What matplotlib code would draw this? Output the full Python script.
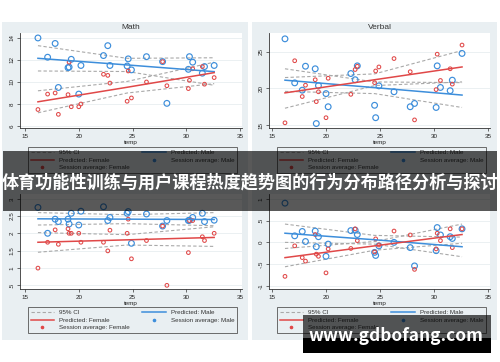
"""
Session averages vs temperature, by gender, four outcome panels
(Stata-style margins plot with a title banner and site watermark on top).
"""

import matplotlib
matplotlib.use("Agg")
import matplotlib.pyplot as plt
import matplotlib.patches as mpatches
from matplotlib.lines import Line2D

plt.rcParams["font.family"] = ["Liberation Sans", "DejaVu Sans"]

# ── Data ──────────────────────────────────────────────────────────────────
TEMP = [16.2, 17.1, 17.8, 18.1, 19.0, 19.1, 19.3, 20.0, 20.2, 22.3, 22.7, 22.9,
        24.5, 24.6, 24.9, 26.3, 27.8, 28.2, 30.2, 30.3, 30.6, 31.5, 31.7, 32.6]

MATH_MALE   = [14.0, 12.25, 13.5, 9.5, 11.3, 11.35, 12.06, 8.9, 11.5, 12.4, 13.3, 11.5,
               11.45, 12.1, 11.1, 12.3, 11.85, 8.06, 11.15, 12.3, 11.8, 10.8, 11.4, 11.5]
MATH_FEMALE = [7.5, 8.9, 9.0, 7.06, 8.85, 11.8, 7.75, 7.75, 8.0, 10.7, 10.6, 9.9,
               8.25, 11.0, 8.55, 10.0, 11.85, 9.66, 9.4, 10.15, 11.2, 11.4, 9.8, 10.4]

VERBAL_MALE   = [26.8, 20.77, 19.77, 23.05, 22.7, 15.2, 20.4, 19.3, 17.5, 22.05, 21.2, 23.1,
                 17.7, 16.0, 20.36, 19.55, 17.5, 17.95, 17.4, 23.1, 20.14, 19.7, 21.14, 24.8]
VERBAL_FEMALE = [15.3, 23.8, 18.9, 20.45, 21.2, 18.2, 19.55, 16.0, 21.4, 19.2, 22.6, 23.05,
                 20.8, 22.4, 22.95, 24.1, 22.3, 15.7, 19.85, 24.7, 21.1, 22.7, 20.6, 25.95]

LOWER_L_MALE   = [2.75, 2.0, 2.41, 2.34, 2.41, 2.27, 2.58, 2.24, 2.64, 2.77, 2.37, 2.46,
                  2.58, 2.63, 1.71, 2.56, 2.21, 2.37, 2.37, 2.38, 2.46, 2.58, 2.34, 2.38]
LOWER_L_FEMALE = [0.99, 1.74, 2.1, 1.68, 2.13, 2.0, 2.0, 2.0, 1.74, 1.74, 1.49, 2.09,
                  2.0, 2.41, 1.26, 1.79, 2.21, 0.49, 1.44, 2.37, 2.37, 1.9, 1.79, 2.0]

LOWER_R_MALE   = [0.9, 0.15, 0.25, 0.02, 0.26, -0.1, 0.13, -0.32, -0.04, 0.27, 0.28, 0.18,
                  -0.23, -0.3, -0.08, 0.0, -0.12, -0.54, -0.19, 0.34, 0.17, 0.13, 0.09, 0.31]
LOWER_R_FEMALE = [-0.78, -0.08, -0.35, -0.43, 0.18, -0.27, -0.32, -0.7, -0.15, -0.14, 0.31, 0.04,
                  -0.22, 0.08, -0.06, 0.26, 0.17, -0.62, -0.15, 0.21, 0.04, 0.31, -0.12, 0.31]

# predicted lines + 95% CI (start / middle / end of temp range)
FIT_X = [16.2, 24.5, 32.6]

MATH_FIT_M = [12.15, 11.55, 10.94]
MATH_LO_M  = [11.0, 10.95, 9.7]
MATH_HI_M  = [13.3, 12.15, 12.2]
MATH_FIT_F = [8.2, 9.52, 10.85]
MATH_LO_F  = [7.2, 9.0, 9.85]
MATH_HI_F  = [9.2, 10.05, 11.8]

VERBAL_FIT_M = [21.14, 20.12, 19.1]
VERBAL_LO_M  = [19.6, 19.3, 17.4]
VERBAL_HI_M  = [22.7, 20.9, 20.8]
VERBAL_FIT_F = [19.4, 21.2, 22.95]
VERBAL_LO_F  = [17.3, 20.4, 20.9]
VERBAL_HI_F  = [21.5, 22.0, 25.2]

LOWER_L_FIT_M = [2.42, 2.41, 2.40]
LOWER_L_LO_M  = [2.24, 2.28, 2.22]
LOWER_L_HI_M  = [2.6, 2.54, 2.6]
LOWER_L_FIT_F = [1.74, 1.81, 1.88]
LOWER_L_LO_F  = [1.45, 1.66, 1.62]
LOWER_L_HI_F  = [2.02, 1.96, 2.19]

LOWER_R_FIT_M = [0.21, 0.06, -0.1]
LOWER_R_LO_M  = [0.0, -0.04, -0.33]
LOWER_R_HI_M  = [0.42, 0.16, 0.12]
LOWER_R_FIT_F = [-0.35, -0.08, 0.18]
LOWER_R_LO_F  = [-0.56, -0.18, -0.02]
LOWER_R_HI_F  = [-0.14, 0.02, 0.42]

XTICKS = [15, 20, 25, 30, 35]
BANNER_TEXT = "体育功能性训练与用户课程热度趋势图的行为分布路径分析与探讨"
WATERMARK = "www.gdbofang.com"

# ── Style ─────────────────────────────────────────────────────────────────
BLUE = "#3d8edb"
RED  = "#e04848"
GREY = "#a9a9a9"
BG   = "#e9eff2"
AXC  = "#333333"

W, H = 500, 362
fig = plt.figure(figsize=(W / 100, H / 100), dpi=100)


def px_rect(x0, y0, x1, y1):
    """pixel box (top-left origin) -> figure-fraction [left, bottom, w, h]"""
    return [x0 / W, 1 - y1 / H, (x1 - x0) / W, (y1 - y0) / H]


def add_rect(x0, y0, x1, y1, **kw):
    l, b, w, h = px_rect(x0, y0, x1, y1)
    fig.add_artist(mpatches.Rectangle((l, b), w, h, transform=fig.transFigure, **kw))


# graph-region backgrounds
add_rect(2, 22, 248, 181, color=BG, zorder=0, lw=0)
add_rect(252, 22, 497, 181, color=BG, zorder=0, lw=0)
add_rect(2, 181, 248, 340, color=BG, zorder=0, lw=0)
add_rect(252, 181, 497, 340, color=BG, zorder=0, lw=0)

panels = [
    dict(box=(20, 33, 242, 128), xlim=(14.53, 35.19), ylim=(5.82, 14.45),
         yticks=[6, 8, 10, 12, 14], ylabels=["6", "8", "10", "12", "14"], title="Math",
         male=MATH_MALE, female=MATH_FEMALE,
         fm=MATH_FIT_M, lm=MATH_LO_M, hm=MATH_HI_M,
         ff=MATH_FIT_F, lf=MATH_LO_F, hf=MATH_HI_F, legend_top=147),
    dict(box=(269, 33, 490, 128), xlim=(14.72, 35.19), ylim=(14.59, 27.6),
         yticks=[15, 20, 25], ylabels=["15", "20", "25"], title="Verbal",
         male=VERBAL_MALE, female=VERBAL_FEMALE,
         fm=VERBAL_FIT_M, lm=VERBAL_LO_M, hm=VERBAL_HI_M,
         ff=VERBAL_FIT_F, lf=VERBAL_LO_F, hf=VERBAL_HI_F, legend_top=147),
    dict(box=(20, 194, 242, 289), xlim=(14.53, 35.19), ylim=(0.384, 3.14),
         yticks=[0.5, 1, 1.5, 2, 2.5, 3], ylabels=[".5", "1", "1.5", "2", "2.5", "3"], title=None,
         male=LOWER_L_MALE, female=LOWER_L_FEMALE,
         fm=LOWER_L_FIT_M, lm=LOWER_L_LO_M, hm=LOWER_L_HI_M,
         ff=LOWER_L_FIT_F, lf=LOWER_L_LO_F, hf=LOWER_L_HI_F, legend_top=307),
    dict(box=(269, 194, 490, 289), xlim=(14.72, 35.19), ylim=(-1.07, 1.11),
         yticks=[-1, -0.5, 0, 0.5, 1], ylabels=["-1", "-.5", "0", ".5", "1"], title=None,
         male=LOWER_R_MALE, female=LOWER_R_FEMALE,
         fm=LOWER_R_FIT_M, lm=LOWER_R_LO_M, hm=LOWER_R_HI_M,
         ff=LOWER_R_FIT_F, lf=LOWER_R_LO_F, hf=LOWER_R_HI_F, legend_top=307),
]

for p in panels:
    ax = fig.add_axes(px_rect(*p["box"]))
    ax.set_facecolor("white")
    for s in ("top", "right"):
        ax.spines[s].set_visible(False)
    for s in ("left", "bottom"):
        ax.spines[s].set_color(AXC)
        ax.spines[s].set_linewidth(0.6)

    # CI bands (dashed), predicted lines, session averages
    for ci in (p["lm"], p["hm"], p["lf"], p["hf"]):
        ax.plot(FIT_X, ci, color=GREY, lw=0.8, dashes=(3, 2), zorder=2)
    ax.scatter(TEMP, p["male"], s=17, facecolors="none", edgecolors=BLUE, linewidths=0.85, zorder=3)
    ax.scatter(TEMP, p["female"], s=7, facecolors="none", edgecolors=RED, linewidths=0.75, zorder=3)
    ax.plot(FIT_X, p["fm"], color=BLUE, lw=1.1, zorder=4)
    ax.plot(FIT_X, p["ff"], color=RED, lw=1.1, zorder=4)

    ax.set_xlim(*p["xlim"])
    ax.set_ylim(*p["ylim"])
    ax.set_xticks(XTICKS)
    ax.set_yticks(p["yticks"])
    ax.set_yticklabels(p["ylabels"], rotation=90, va="center")
    ax.tick_params(direction="out", length=2.5, width=0.5, color=AXC,
                   labelsize=4.5, pad=1.5, labelcolor="#222222")
    ax.grid(axis="y", color="#e8eef0", lw=0.6, zorder=0)
    ax.set_axisbelow(True)
    ax.set_xlabel("temp", fontsize=4.5, labelpad=1, color="#222222")
    if p["title"]:
        ax.set_title(p["title"], fontsize=6, pad=3, color="#333333")

    handles = [
        Line2D([], [], color=GREY, lw=0.8, dashes=(3, 2)),
        Line2D([], [], color=RED, lw=1.1),
        Line2D([], [], color=RED, marker="o", ls="none", markersize=1.6),
        Line2D([], [], color=BLUE, lw=1.1),
        Line2D([], [], color=BLUE, marker="o", ls="none", markersize=1.6),
    ]
    labels = ["95% CI", "Predicted: Female", "Session average: Female",
              "Predicted: Male", "Session average: Male"]
    x0 = p["box"][0] + 8
    l, b, w, h = px_rect(x0, p["legend_top"], x0 + 209, p["legend_top"] + 26)
    leg = ax.legend(handles, labels, ncol=2, loc="upper left", mode="expand",
                    bbox_to_anchor=(l, b, w, h), bbox_transform=fig.transFigure,
                    borderaxespad=0, fontsize=4.5, handlelength=3.7, handletextpad=0.8,
                    labelspacing=0.35, borderpad=0.45, fancybox=False, framealpha=1,
                    facecolor=BG, edgecolor="#555555")
    leg.get_frame().set_linewidth(0.6)
    for t in leg.get_texts():
        t.set_color("#333333")

# ── Overlays: title banner and watermark ──────────────────────────────────
add_rect(3, 151, 497, 211, color="black", alpha=0.65, lw=0, zorder=10)
fig.text(250 / W, 1 - 182 / H, BANNER_TEXT, ha="center", va="center", color="white",
         fontsize=12.3, fontweight="bold", family=["Noto Sans CJK SC", "DejaVu Sans"], zorder=11)

add_rect(303, 315, 491, 338, color="black", alpha=0.65, lw=0, zorder=10)
add_rect(303, 338, 491, 353, color="black", lw=0, zorder=10)
fig.text(396 / W, 1 - 336 / H, WATERMARK, ha="center", va="center", color="white",
         fontsize=12.5, fontweight="bold", family=["Noto Sans CJK SC", "DejaVu Sans"], zorder=11)

plt.savefig("out.png", dpi=100)
